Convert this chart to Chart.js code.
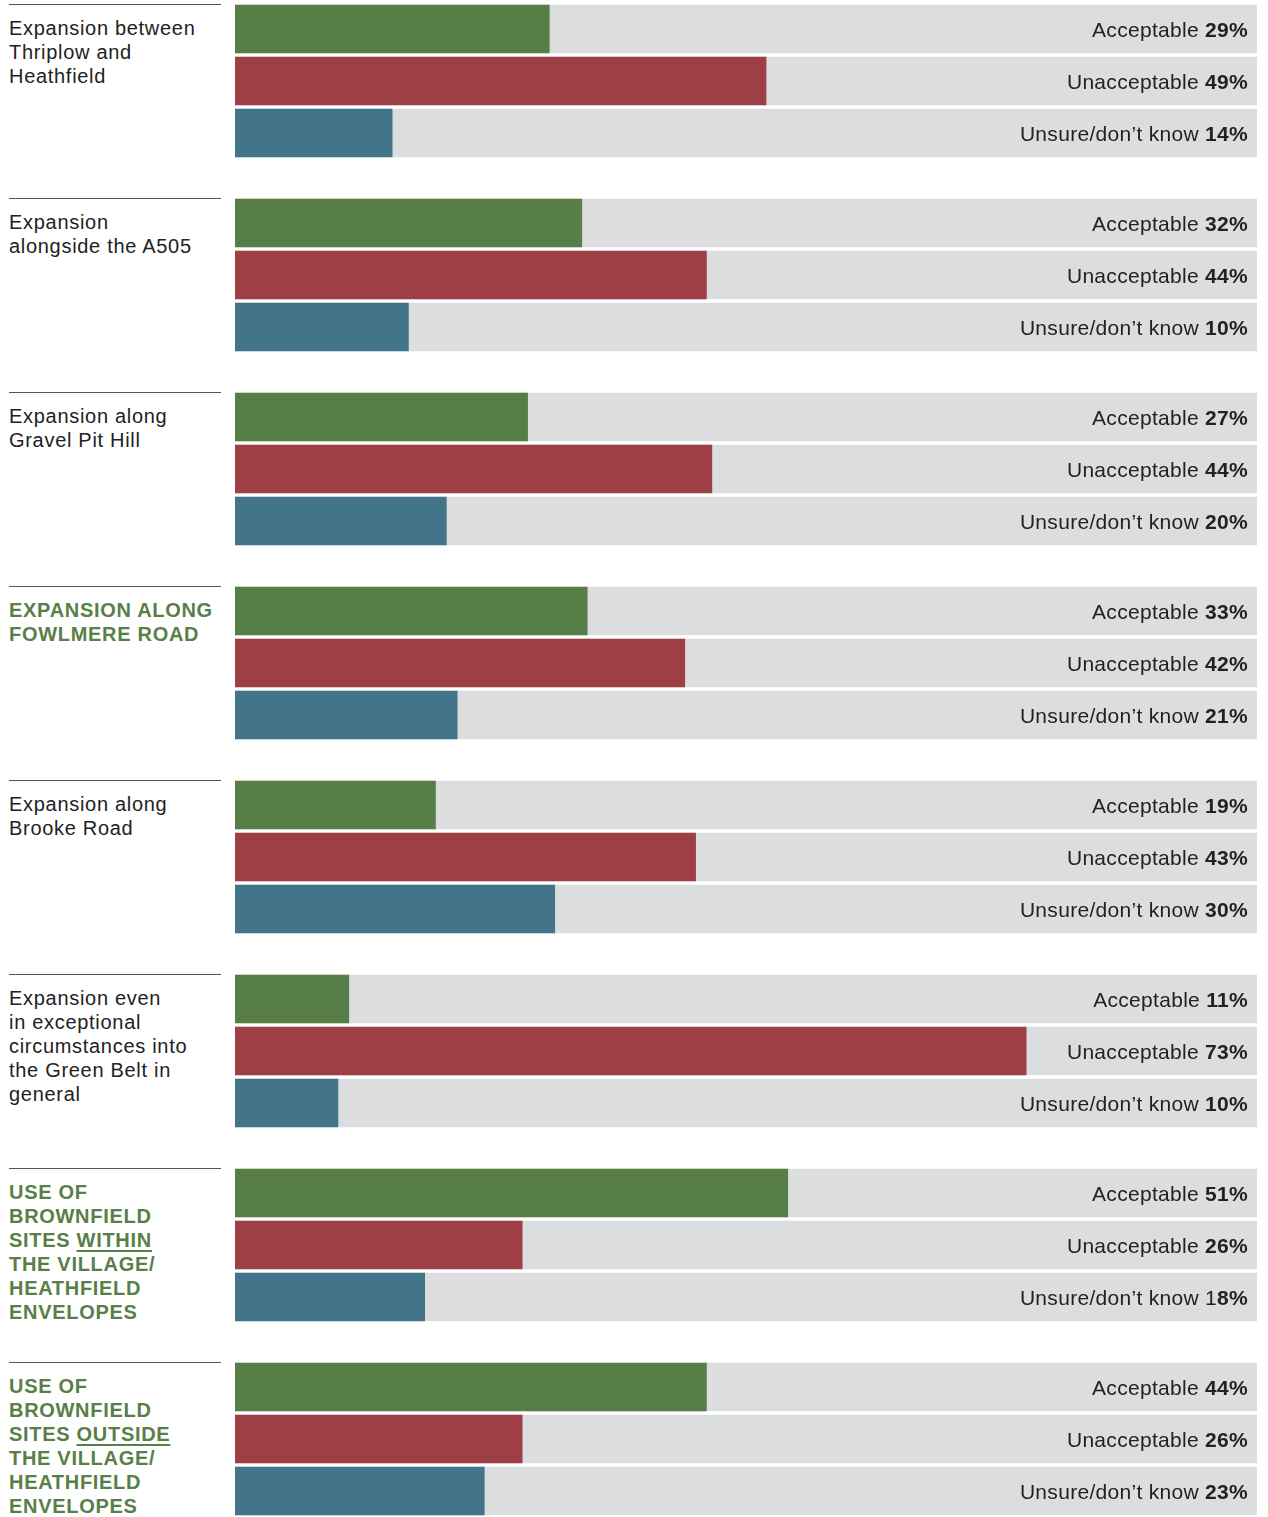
<!DOCTYPE html>
<html>
<head>
<meta charset="utf-8">
<script src="https://cdn.jsdelivr.net/npm/chart.js@4.4.0/dist/chart.umd.min.js"></script>
<style>
  html, body { margin: 0; padding: 0; background: #fff; }
  #page { position: relative; width: 1268px; height: 1517px; overflow: hidden; }
  .label {
    position: absolute; left: 9px; width: 212px;
    border-top: 1.5px solid #555;
    padding-top: 11px;
    font-family: 'Liberation Sans', Arial, sans-serif;
    font-size: 20px; line-height: 24px; letter-spacing: 0.7px;
    color: #222;
  }
  .label.hi { color: #587f47; font-weight: bold; letter-spacing: 0.7px; }
  .label u { text-decoration-thickness: 2px; text-underline-offset: 3px; }
  canvas { position: absolute; left: 235px; }
</style>
</head>
<body>
<div id="page"></div>
<script>
// question labels (HTML, some with underline)
const questions = [
  'Expansion between<br>Thriplow and<br>Heathfield',
  'Expansion<br>alongside the A505',
  'Expansion along<br>Gravel Pit Hill',
  'EXPANSION ALONG<br>FOWLMERE ROAD',
  'Expansion along<br>Brooke Road',
  'Expansion even<br>in exceptional<br>circumstances into<br>the Green Belt in<br>general',
  'USE OF<br>BROWNFIELD<br>SITES <u>WITHIN</u><br>THE VILLAGE/<br>HEATHFIELD<br>ENVELOPES',
  'USE OF<br>BROWNFIELD<br>SITES <u>OUTSIDE</u><br>THE VILLAGE/<br>HEATHFIELD<br>ENVELOPES'
]
const highlighted = [false, false, false, true, false, false, true, true]

const answers = ['Acceptable', 'Unacceptable', 'Unsure/don\u2019t know']

// bar lengths as drawn (percent)
const acceptable   = [29, 32, 27, 32.5, 18.5, 10.5, 51, 43.5]
const unacceptable = [49, 43.5, 44, 41.5, 42.5, 73, 26.5, 26.5]
const unsure       = [14.5, 16, 19.5, 20.5, 29.5, 9.5, 17.5, 23]

// printed percentages
const acceptableText   = ['29%', '32%', '27%', '33%', '19%', '11%', '51%', '44%']
const unacceptableText = ['49%', '44%', '44%', '42%', '43%', '73%', '26%', '26%']
const unsureText       = ['14%', '10%', '20%', '21%', '30%', '10%', '18%', '23%']

const colors = ['#567e46', '#9d3f45', '#42748a']
const trackColor = '#dcdddf'
const scaleMax = 94.3

const page = document.getElementById('page')

const valueLabels = {
  id: 'valueLabels',
  afterDatasetsDraw(chart) {
    const ctx = chart.ctx
    const meta = chart.getDatasetMeta(1)
    const texts = chart.options.plugins.valueLabels.texts
    ctx.save()
    ctx.fillStyle = '#222'
    ctx.textBaseline = 'alphabetic'
    ctx.letterSpacing = '0.3px'
    meta.data.forEach((bar, i) => {
      const x = chart.chartArea.right - 9
      const y = bar.y + 7.5
      let num = texts[i]
      let plain = answers[i] + ' '
      // the "1" of 18% is printed in regular weight
      if (num === '18%') { plain += '1'; num = '8%' }
      ctx.font = 'bold 21px "Liberation Sans", Arial, sans-serif'
      const w = ctx.measureText(num).width
      ctx.textAlign = 'right'
      ctx.fillText(num, x, y)
      ctx.font = '21px "Liberation Sans", Arial, sans-serif'
      ctx.fillText(plain, x - w, y)
    })
    ctx.restore()
  }
}

questions.forEach((q, g) => {
  const top = 5 + 194 * g

  const lab = document.createElement('div')
  lab.className = 'label' + (highlighted[g] ? ' hi' : '')
  lab.style.top = (top - 1) + 'px'
  lab.innerHTML = q
  page.appendChild(lab)

  const canvas = document.createElement('canvas')
  canvas.width = 1022
  canvas.height = 156
  canvas.style.top = (top - 2) + 'px'
  page.appendChild(canvas)

  new Chart(canvas, {
    type: 'bar',
    data: {
      labels: answers,
      datasets: [
        {
          data: [scaleMax, scaleMax, scaleMax],
          backgroundColor: trackColor,
          barThickness: 48,
          grouped: false,
          order: 2,
        },
        {
          data: [acceptable[g], unacceptable[g], unsure[g]],
          backgroundColor: colors,
          barThickness: 48,
          grouped: false,
          order: 1,
        },
      ],
    },
    options: {
      indexAxis: 'y',
      responsive: false,
      animation: false,
      layout: { padding: 0 },
      scales: {
        x: { display: false, min: 0, max: scaleMax },
        y: { display: false },
      },
      plugins: {
        legend: { display: false },
        tooltip: { enabled: false },
        valueLabels: { texts: [acceptableText[g], unacceptableText[g], unsureText[g]] },
      },
    },
    plugins: [valueLabels],
  })
})
</script>
</body>
</html>
